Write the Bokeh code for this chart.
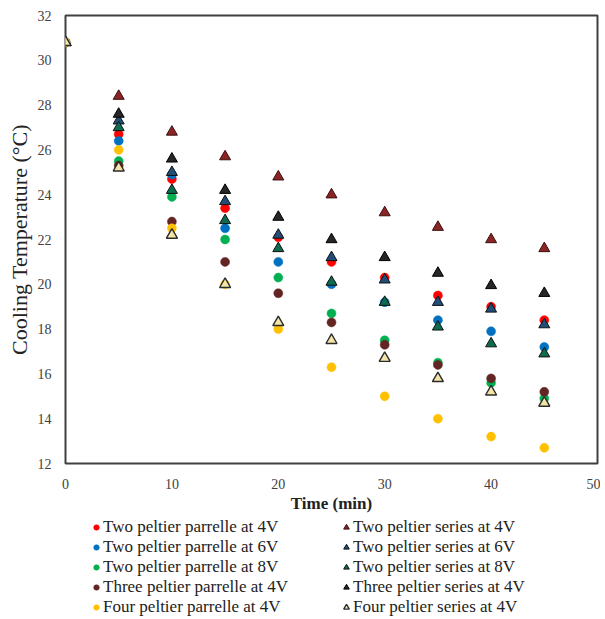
from bokeh.plotting import figure
from bokeh.layouts import column
from bokeh.models import Legend, LegendItem, Range1d, ColumnDataSource, FixedTicker
from bokeh.embed import file_html
from bokeh.resources import INLINE

time_min = [0, 5, 10, 15, 20, 25, 30, 35, 40, 45]

two_par_4v = [30.8, 26.7, 24.7, 23.4, 22.1, 21.0, 20.3, 19.5, 19.0, 18.4]
two_ser_4v = [30.8, 28.4, 26.8, 25.7, 24.8, 24.0, 23.2, 22.55, 22.0, 21.6]
two_par_6v = [30.8, 26.4, 24.9, 22.5, 21.0, 20.0, 19.2, 18.4, 17.9, 17.2]
two_ser_6v = [30.8, 27.3, 25.0, 23.7, 22.2, 21.2, 20.2, 19.2, 18.9, 18.2]
two_par_8v = [30.8, 25.5, 23.9, 22.0, 20.3, 18.7, 17.5, 16.5, 15.6, 14.9]
two_ser_8v = [30.8, 27.0, 24.2, 22.85, 21.6, 20.1, 19.2, 18.1, 17.35, 16.9]
three_par_4v = [30.8, 25.3, 22.8, 21.0, 19.6, 18.3, 17.3, 16.4, 15.8, 15.2]
three_ser_4v = [30.8, 27.6, 25.6, 24.2, 23.0, 22.0, 21.2, 20.5, 19.95, 19.6]
four_par_4v = [30.8, 26.0, 22.5, 20.0, 18.0, 16.3, 15.0, 14.0, 13.2, 12.7]
four_ser_4v = [30.8, 25.2, 22.2, 20.0, 18.3, 17.5, 16.7, 15.8, 15.2, 14.7]

labels = [
    "Two peltier parrelle at 4V", "Two peltier series at 4V",
    "Two peltier parrelle at 6V", "Two peltier series at 6V",
    "Two peltier parrelle at 8V", "Two peltier series at 8V",
    "Three peltier parrelle at 4V", "Three peltier series at 4V",
    "Four peltier parrelle at 4V", "Four peltier series at 4V",
]
series_values = [two_par_4v, two_ser_4v, two_par_6v, two_ser_6v, two_par_8v,
                 two_ser_8v, three_par_4v, three_ser_4v, four_par_4v, four_ser_4v]

y_ticks = [12, 14, 16, 18, 20, 22, 24, 26, 28, 30, 32]
x_ticks = [0, 10, 20, 30, 40, 50]

# styles: (marker, fill, line, line_width, size, legend size)
styles = [
    ("circle", "#ff0000", "#ff0000", 0.5, 9, 7),
    ("triangle", "#8b2525", "#3a0f0f", 1.0, 11, 8),
    ("circle", "#0070c0", "#0070c0", 0.5, 9, 7),
    ("triangle", "#1f4e79", "#111111", 1.0, 11, 8),
    ("circle", "#00b050", "#00b050", 0.5, 9, 7),
    ("triangle", "#0d6b4f", "#111111", 1.0, 11, 8),
    ("circle", "#632523", "#632523", 0.5, 9, 7),
    ("triangle", "#262626", "#000000", 1.0, 11, 8),
    ("circle", "#ffc000", "#ffc000", 0.5, 9, 7),
    ("triangle", "#f3e4a8", "#2b2b2b", 1.4, 11, 8),
]

FONT = "Liberation Serif"

p = figure(width=600, height=515, output_backend="svg", toolbar_location=None,
           x_range=Range1d(0, 50), y_range=Range1d(12, 32),
           min_border_left=65, min_border_top=15, min_border_right=3,
           min_border_bottom=52)
p.xgrid.visible = False
p.ygrid.visible = False
p.outline_line_color = "#404040"
p.outline_line_width = 2
p.background_fill_color = "white"
p.border_fill_color = "white"

for ax in (p.xaxis[0], p.yaxis[0]):
    ax.axis_line_color = None
    ax.major_tick_line_color = None
    ax.minor_tick_line_color = None
    ax.major_label_text_font = FONT
    ax.major_label_text_font_size = "14px"
    ax.major_label_text_color = "#404040"
    ax.axis_label_text_font = FONT
    ax.axis_label_text_color = "#222222"
p.xaxis[0].ticker = FixedTicker(ticks=x_ticks)
p.yaxis[0].ticker = FixedTicker(ticks=y_ticks)
p.xaxis[0].major_label_standoff = 9
p.yaxis[0].major_label_standoff = 8
p.xaxis[0].axis_label = "Time (min)"
p.xaxis[0].axis_label_text_font_style = "bold"
p.xaxis[0].axis_label_text_font_size = "17px"
p.xaxis[0].axis_label_standoff = 2
p.yaxis[0].axis_label = "Cooling Temperature (°C)"
p.yaxis[0].axis_label_text_font_style = "normal"
p.yaxis[0].axis_label_text_font_size = "22px"
p.yaxis[0].axis_label_standoff = 3

# legend-only figure beneath the chart (its marks fall outside its view)
lf = figure(width=600, height=104, output_backend="svg", toolbar_location=None,
            x_range=Range1d(-100, -99), y_range=Range1d(-100, -99),
            x_axis_location=None, y_axis_location=None,
            min_border_left=0, min_border_right=0, min_border_top=0,
            min_border_bottom=0)
lf.xgrid.visible = False
lf.ygrid.visible = False
lf.outline_line_color = None
lf.border_fill_color = "white"

legend_renderers = []
for lab, vals, st in zip(labels, series_values, styles):
    src = ColumnDataSource(dict(t=time_min, v=vals))
    marker, fill, line, lw, size, lsize = st
    p.scatter("t", "v", source=src, marker=marker, size=size,
              fill_color=fill, line_color=line, line_width=lw)
    r = lf.scatter("t", "v", source=src, marker=marker, size=lsize,
                   fill_color=fill, line_color=line, line_width=lw)
    legend_renderers.append((lab, r))

par_items = [LegendItem(label=l, renderers=[r]) for l, r in legend_renderers[0::2]]
ser_items = [LegendItem(label=l, renderers=[r]) for l, r in legend_renderers[1::2]]

def make_legend(items, loc):
    return Legend(items=items, location=loc, orientation="vertical",
                  glyph_width=14, glyph_height=20, label_height=20,
                  label_standoff=0, spacing=0, padding=0, margin=0,
                  border_line_color=None, background_fill_alpha=0,
                  label_text_font=FONT, label_text_font_size="17px",
                  label_text_color="#222222")

lf.add_layout(make_legend(par_items, (24, 2)), "center")
lf.add_layout(make_legend(ser_items, (274, 2)), "center")

layout = column(p, lf, spacing=0)
open("out.html", "w").write(file_html(layout, INLINE))
